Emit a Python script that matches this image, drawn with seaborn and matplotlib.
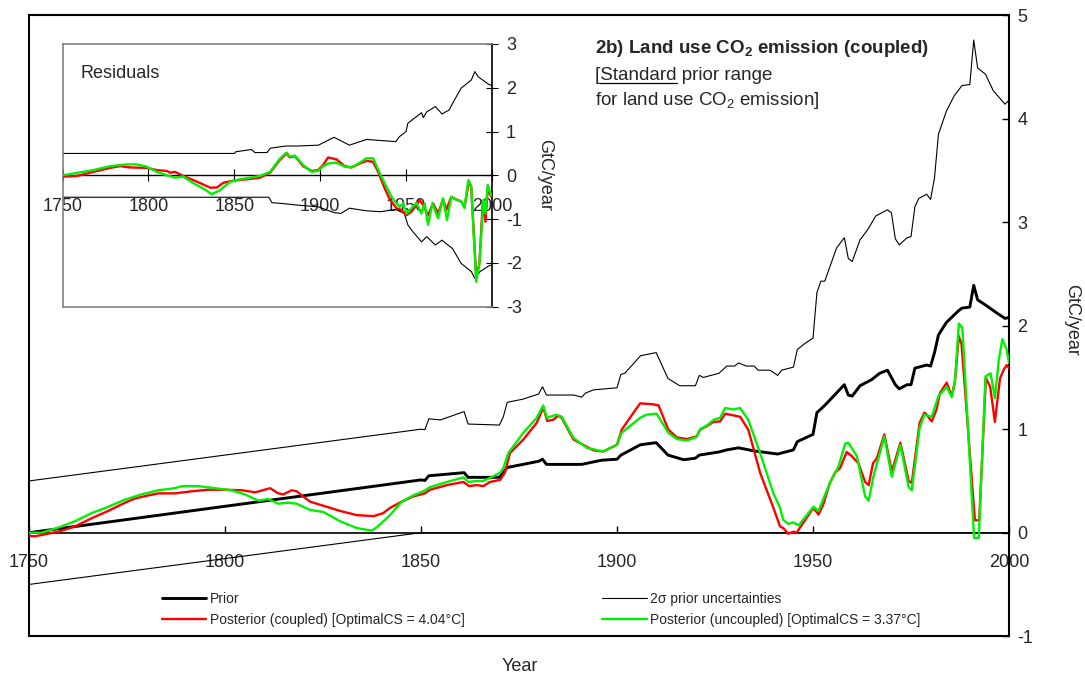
import matplotlib
matplotlib.use("Agg")
import matplotlib.pyplot as plt
from matplotlib.lines import Line2D
import seaborn as sns
import numpy as np
import pandas as pd

# ---------------- data ----------------
prior_years = [1750, 1850, 1851, 1852, 1855, 1858, 1861, 1862, 1870, 1872, 1876, 1880, 1881, 1882,
               1885, 1891, 1896, 1900, 1901, 1906, 1910, 1913, 1917, 1920, 1921, 1926, 1928, 1931,
               1935, 1941, 1945, 1946, 1950, 1951, 1953, 1956, 1958, 1959, 1960, 1962, 1965, 1967,
               1969, 1971, 1972, 1974, 1975, 1976, 1979, 1980, 1981, 1982, 1984, 1987, 1988, 1990,
               1991, 1992, 1994, 1997, 1999, 2000]
prior_vals = [0.0, 0.51, 0.505, 0.55, 0.56, 0.57, 0.58, 0.535, 0.535, 0.63, 0.66, 0.69, 0.71, 0.66,
              0.66, 0.66, 0.70, 0.71, 0.75, 0.85, 0.87, 0.75, 0.705, 0.72, 0.75, 0.78, 0.80, 0.82,
              0.79, 0.76, 0.80, 0.88, 0.95, 1.16, 1.23, 1.35, 1.43, 1.33, 1.32, 1.42, 1.48, 1.54,
              1.57, 1.43, 1.39, 1.43, 1.43, 1.59, 1.62, 1.61, 1.74, 1.91, 2.03, 2.14, 2.17, 2.18,
              2.39, 2.25, 2.20, 2.12, 2.07, 2.08]

upper_years = [1750, 1850, 1851, 1852, 1855, 1861, 1862, 1870, 1871, 1872, 1876, 1880, 1881, 1882,
               1885, 1889, 1891, 1892, 1894, 1900, 1901, 1902, 1906, 1910, 1913, 1916, 1920, 1921,
               1922, 1926, 1928, 1930, 1931, 1933, 1935, 1936, 1939, 1941, 1942, 1945, 1946, 1948,
               1950, 1951, 1952, 1953, 1956, 1958, 1959, 1960, 1962, 1964, 1966, 1969, 1970, 1971,
               1972, 1974, 1975, 1976, 1977, 1979, 1980, 1981, 1982, 1984, 1986, 1988, 1990, 1991,
               1992, 1994, 1996, 1999, 2000]
upper_vals = [0.50, 1.00, 0.995, 1.10, 1.09, 1.17, 1.05, 1.04, 1.12, 1.26, 1.29, 1.34, 1.41, 1.33,
              1.33, 1.33, 1.31, 1.35, 1.38, 1.40, 1.53, 1.54, 1.71, 1.74, 1.49, 1.42, 1.42, 1.52,
              1.50, 1.54, 1.61, 1.61, 1.64, 1.61, 1.61, 1.57, 1.57, 1.52, 1.57, 1.60, 1.77, 1.83,
              1.88, 2.32, 2.43, 2.43, 2.75, 2.85, 2.65, 2.62, 2.83, 2.93, 3.06, 3.12, 3.09, 2.84,
              2.78, 2.85, 2.86, 3.15, 3.23, 3.27, 3.22, 3.43, 3.85, 4.07, 4.22, 4.32, 4.33, 4.76,
              4.49, 4.43, 4.27, 4.14, 4.18]

lower_years = [1750, 1850, 2000]
lower_vals = [-0.50, 0.0, 0.0]

coupled_years = [1750, 1751.5, 1757.5, 1761.7, 1766, 1770.2, 1774.5, 1777, 1780.4, 1783, 1787.2,
                 1791.5, 1795.7, 1800, 1804.3, 1807.7, 1811.5, 1813.6, 1814.9, 1817, 1818.3, 1819.6,
                 1821.7, 1825.1, 1829.4, 1833.6, 1837.9, 1840.4, 1842.1, 1845.1, 1848, 1851, 1852.3,
                 1856.6, 1860.8, 1862.3, 1864.2, 1865.9, 1867.6, 1870.2, 1871.4, 1872.7, 1876.1,
                 1879.5, 1881.2, 1882.2, 1883.7, 1885, 1885.9, 1888.9, 1892.3, 1894, 1896.5, 1900,
                 1901.2, 1903.3, 1905.9, 1909.3, 1910.6, 1913.1, 1915.3, 1917.8, 1920.3, 1921.2,
                 1922.9, 1924.6, 1926.3, 1927.6, 1931.4, 1933.5, 1936.5, 1939.9, 1941.6, 1942.4,
                 1943.7, 1945, 1945.8, 1950.1, 1951.4, 1952.6, 1954.3, 1955.6, 1956.9, 1958.6,
                 1959.9, 1961.6, 1963.3, 1964.2, 1965.3, 1966.3, 1968.2, 1970.1, 1972.3, 1974.4,
                 1975.2, 1977.2, 1978.4, 1979, 1980.3, 1981.5, 1982.4, 1984.1, 1985.4, 1986.2,
                 1987.2, 1987.9, 1991.3, 1992.4, 1994.1, 1995.2, 1996.4, 1997.7, 1998.6, 1999.4, 2000]
coupled_vals = [-0.03, -0.035, 0.01, 0.06, 0.14, 0.21, 0.29, 0.33, 0.36, 0.38, 0.38,
                0.40, 0.415, 0.415, 0.41, 0.39, 0.43, 0.38, 0.37, 0.41, 0.40, 0.36,
                0.30, 0.26, 0.21, 0.17, 0.16, 0.19, 0.24, 0.30, 0.35, 0.38, 0.415,
                0.46, 0.49, 0.45, 0.46, 0.45, 0.49, 0.51, 0.58, 0.77, 0.90,
                1.06, 1.21, 1.08, 1.09, 1.13, 1.11, 0.90, 0.83, 0.795, 0.785, 0.85,
                0.995, 1.11, 1.25, 1.24, 1.23, 0.995, 0.92, 0.905, 0.93, 0.995,
                1.03, 1.07, 1.075, 1.15, 1.12, 0.995, 0.58, 0.24, 0.06, 0.045,
                -0.01, 0.01, 0.0, 0.24, 0.175, 0.27, 0.48, 0.58, 0.625, 0.78,
                0.74, 0.67, 0.49, 0.46, 0.67, 0.72, 0.95, 0.59, 0.87, 0.50,
                0.48, 1.06, 1.16, 1.14, 1.075, 1.19, 1.35, 1.45, 1.32, 1.46,
                1.90, 1.82, 0.12, 0.12, 1.495, 1.41, 1.07, 1.49, 1.57, 1.62, 1.59]

uncoupled_years = [1750, 1753.2, 1757.5, 1761.7, 1766, 1770.2, 1774.5, 1778.7, 1783, 1787.2, 1789,
                   1793.2, 1797.4, 1801.7, 1805.1, 1808.5, 1811, 1813.6, 1816.1, 1818.3, 1820,
                   1821.7, 1825.1, 1829.4, 1833.6, 1837.5, 1838.8, 1842.1, 1845.1, 1848, 1850.6,
                   1852.3, 1856.6, 1860.8, 1862.1, 1864.2, 1865.9, 1867.6, 1870.2, 1871, 1872.3,
                   1876.1, 1879.5, 1881.2, 1882.1, 1884.6, 1885.9, 1888.9, 1892.3, 1896.5, 1900,
                   1901.2, 1903.3, 1905.9, 1907.5, 1910.1, 1913.1, 1915.3, 1917.8, 1920.3, 1921.2,
                   1922.9, 1924.6, 1926.3, 1927.6, 1929.7, 1931.4, 1933.5, 1936.5, 1939.9, 1941.6,
                   1942.4, 1943.7, 1945, 1946.3, 1950.1, 1951.4, 1954.3, 1956.5, 1958.2, 1959,
                   1961.2, 1963.3, 1964.2, 1965.4, 1968.2, 1970.1, 1972.3, 1974.4, 1975.2, 1977.2,
                   1978.4, 1980.3, 1982, 1984.1, 1985.4, 1986.2, 1987.2, 1988.1, 1991.1, 1992.3,
                   1994, 1995.3, 1996.4, 1997.4, 1998.3, 1999.4, 2000]
uncoupled_vals = [0.0, 0.0, 0.05, 0.11, 0.19, 0.25, 0.32, 0.37, 0.41, 0.43, 0.45,
                  0.45, 0.43, 0.41, 0.37, 0.31, 0.325, 0.28, 0.29, 0.28, 0.25,
                  0.22, 0.20, 0.11, 0.045, 0.02, 0.055, 0.17, 0.30, 0.36, 0.40,
                  0.44, 0.49, 0.535, 0.49, 0.50, 0.50, 0.53, 0.58, 0.625, 0.77,
                  0.965, 1.11, 1.23, 1.11, 1.14, 1.12, 0.915, 0.82, 0.785, 0.85,
                  0.965, 1.03, 1.11, 1.14, 1.15, 0.965, 0.905, 0.89, 0.925, 1.0,
                  1.035, 1.09, 1.11, 1.205, 1.19, 1.205, 1.09, 0.77, 0.38, 0.24,
                  0.125, 0.085, 0.10, 0.07, 0.25, 0.21, 0.48, 0.64, 0.86, 0.87,
                  0.74, 0.35, 0.31, 0.54, 0.93, 0.54, 0.85, 0.44, 0.41, 1.01,
                  1.14, 1.12, 1.32, 1.41, 1.31, 1.45, 2.02, 1.98, -0.05, -0.05,
                  1.51, 1.54, 1.30, 1.67, 1.87, 1.77, 1.64]

# inset: residuals
res_c_years = [1750, 1758.4, 1768, 1777.7, 1783.5, 1789.4, 1799, 1804.9, 1810.7, 1812.6, 1815.5,
               1820.3, 1826.2, 1832, 1835.9, 1839.8, 1843.6, 1849.4, 1857.2, 1864.9, 1870.8,
               1876.5, 1880.4, 1882.3, 1885.2, 1890.1, 1895, 1898.8, 1901.7, 1904.6, 1909.5,
               1914.3, 1918.2, 1923.1, 1926.9, 1930.8, 1933.7, 1937.6, 1940.5, 1944.4, 1947.3,
               1950.2, 1953.1, 1956, 1957.9, 1959.9, 1962.8, 1965.7, 1968.6, 1971.5, 1973.4,
               1976.3, 1979.2, 1982.1, 1984, 1986.5, 1987.9, 1990.8, 1992.7, 1994.6, 1996.2,
               1997.5, 1999.5]
res_c_vals = [-0.03, -0.015, 0.08, 0.17, 0.21, 0.18, 0.17, 0.12, 0.10, 0.06, 0.08,
              -0.015, -0.11, -0.21, -0.28, -0.28, -0.17, -0.12, -0.09, -0.055, 0.06,
              0.35, 0.50, 0.41, 0.44, 0.21, 0.10, 0.12, 0.235, 0.41, 0.365,
              0.21, 0.18, 0.27, 0.33, 0.31, 0.08, -0.30, -0.55, -0.75, -0.79,
              -0.91, -0.83, -0.68, -0.56, -0.68, -0.91, -0.64, -0.87, -0.55, -0.79,
              -0.49, -0.55, -0.60, -0.72, -0.15, -0.26, -2.31, -2.01, -0.64, -1.06,
              -0.30, -0.49]

res_u_years = [1750, 1768, 1777.7, 1787.4, 1793.3, 1799, 1804.9, 1810.7, 1815.5, 1820.3, 1826.2,
               1832, 1836.8, 1841.7, 1847.5, 1853.3, 1864.9, 1870.8, 1876.5, 1880.4, 1882.3,
               1885.2, 1890.1, 1895, 1898.8, 1901.7, 1904.6, 1909.5, 1914.3, 1918.2, 1923.1,
               1926.9, 1930.8, 1934.7, 1938.6, 1941.5, 1944.4, 1946.3, 1948.3, 1950.2, 1953.1,
               1956, 1958.9, 1960.8, 1962.8, 1965.3, 1968.6, 1971.5, 1973.8, 1976.3, 1979.2,
               1982.1, 1984, 1986.2, 1987.9, 1990.8, 1992.7, 1995, 1996.2, 1997.5, 1999.5]
res_u_vals = [0.0, 0.12, 0.21, 0.25, 0.25, 0.20, 0.08, 0.0, -0.05, -0.03, -0.18,
              -0.30, -0.43, -0.34, -0.15, -0.09, -0.015, 0.08, 0.38, 0.52, 0.43,
              0.45, 0.235, 0.08, 0.10, 0.21, 0.27, 0.29, 0.20, 0.18, 0.29,
              0.39, 0.39, 0.045, -0.26, -0.49, -0.64, -0.72, -0.64, -0.87, -0.75,
              -0.625, -0.87, -0.64, -1.13, -0.64, -0.98, -0.525, -1.02, -0.49, -0.56,
              -0.59, -0.75, -0.11, -0.24, -2.43, -2.01, -0.56, -0.87, -0.22, -0.46]

band_up_years = [1750, 1850, 1851, 1860, 1862, 1869, 1871, 1880, 1887, 1899, 1908, 1917, 1927,
                 1944, 1946, 1950, 1951, 1959, 1960, 1962, 1967, 1971, 1973, 1975, 1977, 1982,
                 1988, 1990, 1992, 1998, 2000]
band_up_vals = [0.50, 0.50, 0.54, 0.59, 0.52, 0.52, 0.62, 0.67, 0.67, 0.69, 0.87, 0.69, 0.82,
                0.77, 0.88, 1.0, 1.19, 1.43, 1.32, 1.45, 1.57, 1.40, 1.45, 1.49, 1.64, 1.99,
                2.18, 2.37, 2.25, 2.08, 2.05]
band_lo_years = [1750, 1870, 1872, 1877, 1887, 1899, 1908, 1912, 1917, 1927, 1935, 1944, 1949,
                 1951, 1954, 1959, 1962, 1967, 1971, 1973, 1977, 1982, 1988, 1990, 1993, 1998, 2000]
band_lo_vals = [-0.50, -0.50, -0.625, -0.64, -0.68, -0.72, -0.85, -0.87, -0.75, -0.81, -0.83,
                -0.78, -0.87, -1.13, -1.29, -1.52, -1.40, -1.59, -1.48, -1.55, -1.67, -2.01,
                -2.20, -2.35, -2.20, -2.07, -2.05]

x_ticks = [1750, 1800, 1850, 1900, 1950, 2000]
main_y_ticks = [-1, 0, 1, 2, 3, 4, 5]
inset_y_ticks = [-3, -2, -1, 0, 1, 2, 3]
legend_labels = ["Prior", "Posterior (coupled) [OptimalCS = 4.04\u00b0C]",
                 "2\u03c3 prior uncertainties", "Posterior (uncoupled) [OptimalCS = 3.37\u00b0C]"]

# ---------------- style ----------------
sns.set_theme(style="white")
plt.rcParams['font.family'] = ['Liberation Sans', 'DejaVu Sans']
plt.rcParams['mathtext.fontset'] = 'custom'
plt.rcParams['mathtext.rm'] = 'Liberation Sans'
plt.rcParams['mathtext.it'] = 'Liberation Sans:italic'
plt.rcParams['mathtext.bf'] = 'Liberation Sans:bold'
plt.rcParams['axes.unicode_minus'] = False

W, H = 1085, 675
fig = plt.figure(figsize=(W / 100, H / 100), dpi=100)
fig.patch.set_facecolor('white')

RED = '#FF0000'
GREEN = '#00F000'


def fx(px):
    return px / W


def fy(py):
    return 1 - py / H


def line(ax, xs, ys, color, lw, z=2):
    df = pd.DataFrame({'x': xs, 'y': ys})
    sns.lineplot(data=df, x='x', y='y', ax=ax, color=color, linewidth=lw,
                 estimator=None, sort=False, legend=False, zorder=z)
    return ax.lines[-1]


# ---------------- main axes ----------------
ax = fig.add_axes([fx(29), fy(636.2), fx(1009) - fx(29), fy(15.2) - fy(636.2)])
ax.set_facecolor('white')
ax.set_xlim(1750, 2000)
ax.set_ylim(-1, 5)

h_up = line(ax, upper_years, upper_vals, 'black', 0.8)
line(ax, lower_years, lower_vals, 'black', 0.8)
h_prior = line(ax, prior_years, prior_vals, 'black', 2.1, z=3)
h_red = line(ax, coupled_years, coupled_vals, RED, 1.7, z=4)
h_green = line(ax, uncoupled_years, uncoupled_vals, GREEN, 1.7, z=5)
ax.set_xlabel('')
ax.set_ylabel('')

for s in ['left', 'top', 'right']:
    ax.spines[s].set_visible(True)
    ax.spines[s].set_color('black')
    ax.spines[s].set_linewidth(1.5)
ax.spines['bottom'].set_position(('data', 0))
ax.spines['bottom'].set_color('black')
ax.spines['bottom'].set_linewidth(1.2)
ax.plot([0, 1], [0, 0], transform=ax.transAxes, color='black', lw=1.5, clip_on=False, zorder=6)

ax.set_xticks(x_ticks)
ax.set_xticklabels([str(t) for t in x_ticks])
ax.tick_params(axis='x', direction='in', length=5, width=1, color='black', pad=15,
               labelsize=13, bottom=True, top=False)
ax.yaxis.tick_right()
ax.set_yticks(main_y_ticks)
ax.set_yticklabels([str(t) for t in main_y_ticks])
ax.tick_params(axis='y', direction='in', length=5, width=1, color='black', pad=6,
               labelsize=13, right=True, left=False)

leg = ax.legend([h_prior, h_red, h_up, h_green], legend_labels, ncol=2, frameon=False,
                fontsize=10, handlelength=3.2, handletextpad=0.25, columnspacing=9.9,
                borderpad=0, labelspacing=0.5, loc='upper left',
                bbox_to_anchor=(fx(155), fy(585)), bbox_transform=fig.transFigure)

fig.text(fx(520), fy(671), 'Year', fontsize=13, ha='center', va='baseline')
fig.text(fx(1072), fy(320), 'GtC/year', fontsize=13, ha='center', va='center', rotation=-90)

# titles
fig.text(fx(595), fy(53.3), r'2b) Land use CO$_\mathbf{2}$ emission (coupled)', fontsize=13.5,
         fontweight='bold', ha='left', va='baseline')
fig.text(fx(595), fy(80), '[Standard prior range', fontsize=13.5, ha='left', va='baseline')
fig.text(fx(595), fy(105), r'for land use CO$_2$ emission]', fontsize=13.5, ha='left', va='baseline')

# ---------------- inset axes ----------------
axi = fig.add_axes([fx(62.5), fy(306.7), fx(492) - fx(62.5), fy(44) - fy(306.7)])
axi.set_facecolor('white')
axi.set_xlim(1750, 2000)
axi.set_ylim(-3, 3)
line(axi, band_up_years, band_up_vals, 'black', 0.8)
line(axi, band_lo_years, band_lo_vals, 'black', 0.8)
line(axi, res_c_years, res_c_vals, RED, 1.7, z=3)
line(axi, res_u_years, res_u_vals, GREEN, 1.7, z=4)
axi.set_xlabel('')
axi.set_ylabel('')
for s in ['left', 'top']:
    axi.spines[s].set_visible(True)
    axi.spines[s].set_color('#808080')
    axi.spines[s].set_linewidth(1.2)
axi.spines['right'].set_visible(True)
axi.spines['right'].set_color('black')
axi.spines['right'].set_linewidth(1.2)
axi.spines['bottom'].set_position(('data', 0))
axi.spines['bottom'].set_color('black')
axi.spines['bottom'].set_linewidth(1.0)
axi.plot([0, 1], [0, 0], transform=axi.transAxes, color='#808080', lw=1.2, clip_on=False, zorder=6)
axi.set_xticks(x_ticks)
axi.set_xticklabels([str(t) for t in x_ticks])
axi.tick_params(axis='x', direction='inout', length=8, width=0.8, color='black', pad=12,
                labelsize=13, bottom=True, top=False)
axi.yaxis.tick_right()
axi.set_yticks(inset_y_ticks)
axi.set_yticklabels([str(t) for t in inset_y_ticks])
axi.tick_params(axis='y', direction='inout', length=8, width=0.8, color='black', pad=6,
                labelsize=13, right=True, left=False)

fig.text(fx(80.7), fy(78), 'Residuals', fontsize=13, ha='left', va='baseline')
fig.text(fx(545), fy(175), 'GtC/year', fontsize=13, ha='center', va='center', rotation=-90)

# underline "Standard"
fig.canvas.draw()
r = fig.canvas.get_renderer()
tmp1 = fig.text(fx(595), fy(80), '[', fontsize=13.5, ha='left', va='baseline')
tmp2 = fig.text(fx(595), fy(80), '[Standard', fontsize=13.5, ha='left', va='baseline')
b1 = tmp1.get_window_extent(r)
b2 = tmp2.get_window_extent(r)
tmp1.remove()
tmp2.remove()
uy = fy(82.7)
fig.add_artist(Line2D([b1.x1 / W, b2.x1 / W], [uy, uy], transform=fig.transFigure,
                      color='black', lw=0.9))

fig.savefig('out.png', dpi=100, facecolor='white')
